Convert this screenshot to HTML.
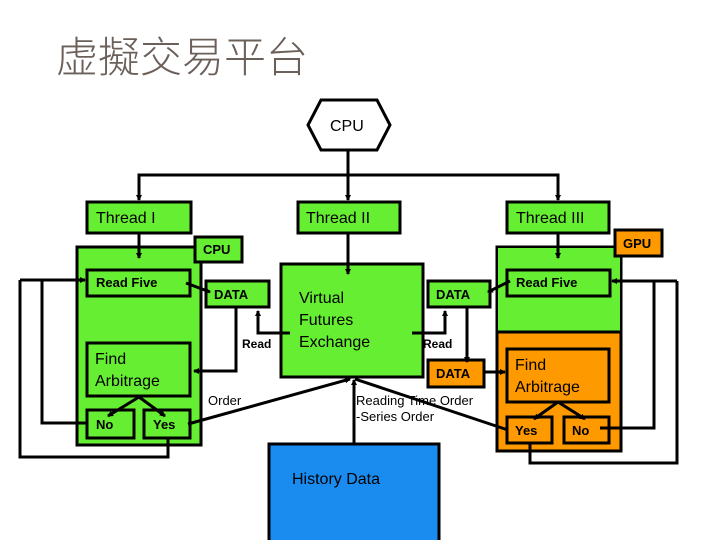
<!DOCTYPE html>
<html><head><meta charset="utf-8"><style>
html,body{margin:0;padding:0;background:#fff;}
svg{display:block;}
text{font-family:"Liberation Sans",Arial,sans-serif;}
</style></head><body>
<svg width="720" height="540" viewBox="0 0 720 540" xmlns="http://www.w3.org/2000/svg">
<defs>
<marker id="a" markerWidth="6" markerHeight="6" refX="5" refY="3" orient="auto" markerUnits="userSpaceOnUse"><path d="M0,0 L6,3 L0,6 z" fill="#000"/></marker>
</defs>
<text x="56" y="72" font-size="42" fill="#6b5f5a" style="font-family:'Liberation Sans','Noto Sans CJK TC',sans-serif;font-weight:300">虚擬交易平台</text>

<g stroke="#000" stroke-width="3" fill="none">
<!-- CPU hex -->
<polygon points="321,100 377,100 390,125 377,150 321,150 308,125" fill="#fff"/>
<line x1="348" y1="150" x2="348" y2="200" marker-end="url(#a)"/>
<polyline points="139,200 139,175 558,175 558,200" />
<line x1="139" y1="190" x2="139" y2="200" marker-end="url(#a)"/>
<line x1="558" y1="190" x2="558" y2="200" marker-end="url(#a)"/>
</g>

<g stroke="#000" stroke-width="3">
<rect x="87" y="202" width="104" height="31" fill="#66ee33"/>
<rect x="298" y="202" width="102" height="31" fill="#66ee33"/>
<rect x="507" y="202" width="102" height="31" fill="#66ee33"/>
<!-- left big -->
<rect x="77" y="247" width="124" height="198" fill="#66ee33"/>
<rect x="195" y="237" width="47" height="25" fill="#66ee33"/>
<rect x="87" y="270" width="103" height="26" fill="#66ee33"/>
<rect x="206" y="281" width="63" height="26" fill="#66ee33"/>
<rect x="87" y="343" width="103" height="53" fill="#66ee33"/>
<rect x="87" y="410" width="47" height="28" fill="#66ee33"/>
<rect x="144" y="410" width="46" height="28" fill="#66ee33"/>
<!-- VFE -->
<rect x="281" y="264" width="142" height="113" fill="#66ee33"/>
<rect x="428" y="281" width="62" height="26" fill="#66ee33"/>
<rect x="428" y="360" width="56" height="27" fill="#ff9900"/>
<!-- right big -->
<rect x="497" y="247" width="124" height="204" fill="#ff9900"/>
<rect x="498" y="248" width="122" height="84" fill="#66ee33" stroke="none"/>
<line x1="497" y1="332" x2="621" y2="332"/>
<rect x="615" y="230" width="47" height="26" fill="#ff9900"/>
<rect x="507" y="270" width="103" height="26" fill="#66ee33"/>
<rect x="507" y="349" width="102" height="53" fill="#ff9900"/>
<rect x="507" y="417" width="45" height="26" fill="#ff9900"/>
<rect x="564" y="417" width="45" height="26" fill="#ff9900"/>
<rect x="269" y="444" width="170" height="100" fill="#1a8cf0"/>
</g>

<g stroke="#000" stroke-width="3" fill="none">
<line x1="139" y1="233" x2="139" y2="258" marker-end="url(#a)"/>
<line x1="348" y1="233" x2="348" y2="274" marker-end="url(#a)"/>
<line x1="558" y1="233" x2="558" y2="258" marker-end="url(#a)"/>
<!-- left loops -->
<polyline points="20,280 20,457 168,457 168,438"/>
<polyline points="42,280 42,423 87,423"/>
<line x1="20" y1="280" x2="85" y2="280" marker-end="url(#a)"/>
<!-- left DATA links -->
<line x1="186" y1="283" x2="210" y2="292" marker-end="url(#a)"/>
<polyline points="236,307 236,371 194,371" marker-end="url(#a)"/>
<polyline points="290,333 258,333 258,311" marker-end="url(#a)"/>
<!-- Find to No/Yes -->
<line x1="139" y1="397" x2="108" y2="416" marker-end="url(#a)"/>
<line x1="139" y1="397" x2="165" y2="416" marker-end="url(#a)"/>
<!-- Yes to VFE -->
<line x1="188" y1="424" x2="350" y2="379" marker-end="url(#a)"/>
<line x1="354" y1="444" x2="354" y2="380" marker-end="url(#a)"/>
<line x1="508" y1="430" x2="355" y2="379"/>
<!-- right DATA links -->
<polyline points="412,333 445,333 445,311" marker-end="url(#a)"/>
<line x1="510" y1="281" x2="488" y2="292" marker-end="url(#a)"/>
<line x1="467" y1="307" x2="467" y2="362" marker-end="url(#a)"/>
<line x1="484" y1="372" x2="505" y2="372" marker-end="url(#a)"/>
<line x1="558" y1="402" x2="534" y2="419" marker-end="url(#a)"/>
<line x1="558" y1="402" x2="585" y2="419" marker-end="url(#a)"/>
<!-- right loops -->
<polyline points="530,443 530,463 677,463 677,281"/>
<polyline points="600,428 654,428 654,281"/>
<line x1="677" y1="281" x2="612" y2="281" marker-end="url(#a)"/>
</g>

<g font-size="16" fill="#000">
<text x="330" y="131">CPU</text>
<text x="96" y="223">Thread I</text>
<text x="306" y="223">Thread II</text>
<text x="516" y="223">Thread III</text>
<text x="299" y="303">Virtual</text>
<text x="299" y="325">Futures</text>
<text x="299" y="347">Exchange</text>
<text x="95" y="364">Find</text>
<text x="95" y="386">Arbitrage</text>
<text x="515" y="370">Find</text>
<text x="515" y="392">Arbitrage</text>
<text x="292" y="484">History Data</text>
</g>
<g font-size="13" font-weight="bold" fill="#000">
<text x="203" y="254">CPU</text>
<text x="623" y="248">GPU</text>
<text x="96" y="287">Read Five</text>
<text x="516" y="287">Read Five</text>
<text x="214" y="299">DATA</text>
<text x="436" y="299">DATA</text>
<text x="436" y="378">DATA</text>
<text x="96" y="429">No</text>
<text x="153" y="429">Yes</text>
<text x="515" y="435">Yes</text>
<text x="572" y="435">No</text>
</g>
<g font-size="12" font-weight="bold" fill="#000">
<text x="242" y="348">Read</text>
<text x="423" y="348">Read</text>
</g>
<g font-size="13" fill="#000">
<text x="208" y="405">Order</text>
<text x="356" y="405">Reading Time Order</text>
<text x="356" y="421">-Series Order</text>
</g>
</svg>
</body></html>
